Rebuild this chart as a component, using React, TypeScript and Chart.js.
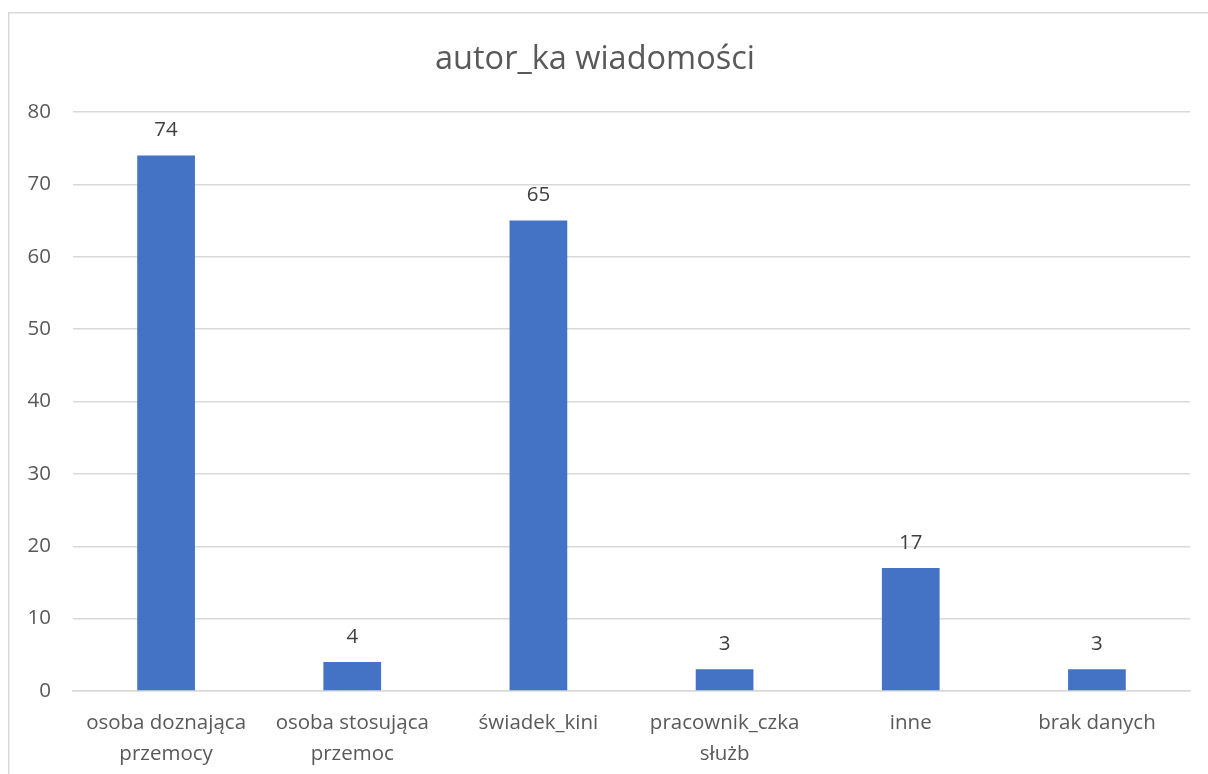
import React, { useEffect, useRef } from "react";
import { Chart, registerables } from "chart.js";

Chart.register(...registerables);

const categories: (string | string[])[] = [
  ["osoba doznająca", "przemocy"],
  ["osoba stosująca", "przemoc"],
  "świadek_kini",
  ["pracownik_czka", "służb"],
  "inne",
  "brak danych",
];
const values: number[] = [74, 4, 65, 3, 17, 3];
const yTicks: number[] = [0, 10, 20, 30, 40, 50, 60, 70, 80];
const titleText = "autor_ka wiadomości";

const FONT = "'Open Sans', 'Noto Sans', sans-serif";

const framePlugin = {
  id: "frame",
  beforeDraw(chart: any) {
    const ctx = chart.ctx;
    ctx.save();
    ctx.fillStyle = "#ffffff";
    ctx.fillRect(0, 0, chart.width, chart.height);
    ctx.strokeStyle = "#d9d9d9";
    ctx.lineWidth = 1.5;
    ctx.beginPath();
    ctx.moveTo(8.75, chart.height + 2);
    ctx.lineTo(8.75, 12.75);
    ctx.lineTo(chart.width + 2, 12.75);
    ctx.stroke();
    ctx.restore();
  },
};

const labelPlugin = {
  id: "barLabels",
  afterDatasetsDraw(chart: any) {
    const ctx = chart.ctx;
    const meta = chart.getDatasetMeta(0);
    ctx.save();
    ctx.font = `20.5px ${FONT}`;
    ctx.fillStyle = "#404040";
    ctx.textAlign = "center";
    ctx.textBaseline = "middle";
    meta.data.forEach((bar: any, i: number) => {
      ctx.fillText(String(values[i]), bar.x, bar.y - 25);
    });
    ctx.restore();
  },
};

export default function App() {
  const ref = useRef<HTMLCanvasElement>(null);
  useEffect(() => {
    if (!ref.current) return;
    const chart = new Chart(ref.current, {
      type: "bar",
      data: {
        labels: categories,
        datasets: [
          {
            data: values,
            backgroundColor: "#4472c4",
            barPercentage: 0.62,
            categoryPercentage: 0.5,
          },
        ],
      },
      options: {
        animation: false,
        responsive: false,
        maintainAspectRatio: false,
        layout: { padding: { left: 0, right: 18, top: 0, bottom: 0 } },
        plugins: {
          legend: { display: false },
          tooltip: { enabled: false },
          title: {
            display: true,
            text: titleText,
            color: "#595959",
            font: { family: FONT, size: 32.5, weight: "normal", lineHeight: 1.2 },
            padding: { top: 40.5, bottom: 32.5 },
          },
        },
        scales: {
          x: {
            grid: { display: false, drawTicks: false },
            border: { display: true, color: "#d9d9d9", width: 1.5 },
            ticks: {
              color: "#595959",
              font: { family: FONT, size: 20.5, lineHeight: 1.5 },
              padding: 17,
              maxRotation: 0,
              autoSkip: false,
            },
            afterFit(scale: any) {
              scale.height = 83;
            },
          },
          y: {
            min: 0,
            max: 80,
            afterBuildTicks(scale: any) {
              scale.ticks = yTicks.map((v) => ({ value: v }));
            },
            grid: { color: "#d9d9d9", lineWidth: 1.5, drawTicks: false },
            border: { display: false },
            ticks: {
              color: "#595959",
              font: { family: FONT, size: 20.5 },
              padding: 22,
            },
            afterFit(scale: any) {
              scale.width = 73;
            },
          },
        },
      },
      plugins: [framePlugin, labelPlugin],
    });
    return () => chart.destroy();
  }, []);
  return (
    <div style={{ position: "fixed", left: 0, top: 0, width: 1208, height: 774, background: "#fff" }}>
      <canvas ref={ref} width={1208} height={774} style={{ width: 1208, height: 774, display: "block" }} />
    </div>
  );
}
